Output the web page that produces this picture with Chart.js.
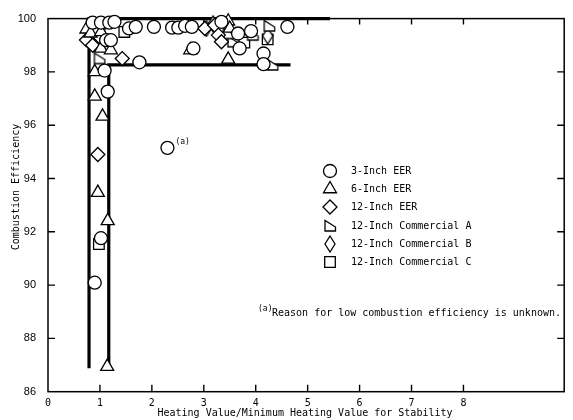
<!DOCTYPE html>
<html>
<head>
<meta charset="utf-8">
<script src="https://cdn.jsdelivr.net/npm/chart.js@4.4.0/dist/chart.umd.min.js"></script>
<style>
    html, body { margin: 0; padding: 0; background: #fff; }
    #wrap { width: 573px; height: 420px; }
</style>
</head>
<body>
<div id="wrap"><canvas id="scatter_chart" width="573" height="420"></canvas></div>
<script>
// values
var xTickValues = [0, 1, 2, 3, 4, 5, 6, 7, 8];
var yTickValues = [86, 88, 90, 92, 94, 96, 98, 100];

var eer3X = [0.86, 1.02, 1.18, 1.28, 1.56, 1.69, 1.12, 1.21, 1.76, 1.09, 1.15, 1.02, 0.90, 2.04, 2.39, 2.51, 2.64, 2.77, 2.80, 3.34, 3.66, 3.69, 3.91, 4.15, 4.15, 4.61, 2.30];
var eer3Y = [99.85, 99.85, 99.85, 99.88, 99.63, 99.69, 99.19, 99.19, 98.36, 98.05, 97.26, 91.76, 90.09, 99.69, 99.66, 99.66, 99.73, 99.69, 98.88, 99.88, 99.44, 98.88, 99.53, 98.69, 98.29, 99.69, 95.15];

var eer6X = [0.74, 0.82, 1.02, 1.02, 1.21, 0.90, 0.90, 1.05, 0.96, 1.15, 1.14, 2.74, 3.47, 3.47, 3.50];
var eer6Y = [99.60, 99.45, 99.50, 98.88, 98.82, 98.00, 97.08, 96.33, 93.47, 92.41, 86.94, 98.82, 98.47, 99.90, 99.63];

var eer12X = [0.74, 0.86, 1.00, 1.43, 3.02, 3.21, 3.28, 3.34, 0.96];
var eer12Y = [99.20, 99.00, 99.30, 98.50, 99.63, 99.75, 99.38, 99.13, 94.90];

var commAX = [0.99, 3.56, 3.47, 4.26, 4.32, 3.94];
var commAY = [98.50, 99.13, 99.44, 99.72, 98.26, 99.38];

var commBX = [1.05, 3.05, 3.18, 4.23];
var commBY = [99.75, 99.63, 99.80, 99.35];

var commCX = [1.47, 0.98, 4.23, 3.78];
var commCY = [99.50, 91.54, 99.22, 99.10];

// stability limit lines
var outerLineX = [0.79, 0.79, 5.43];
var outerLineY = [86.88, 100, 100];
var innerLineX = [1.17, 1.17, 4.67];
var innerLineY = [87.06, 98.26, 98.26];

var seriesNames = ["3-Inch EER", "6-Inch EER", "12-Inch EER", "12-Inch Commercial A", "12-Inch Commercial B", "12-Inch Commercial C"];
var noteText = "Reason for low combustion efficiency is unknown.";

var typeFont = '"DejaVu Sans Mono", monospace';

function toPoints(xs, ys) {
    return xs.map(function (x, i) { return { x: x, y: ys[i] }; });
}

function makeShape(kind) {
    var c = document.createElement('canvas');
    var ctx;
    if (kind === 'commA') {
        c.width = 14; c.height = 14;
        ctx = c.getContext('2d');
        ctx.beginPath();
        ctx.moveTo(2, 1.5);
        ctx.lineTo(2, 12);
        ctx.lineTo(12.5, 12);
        ctx.lineTo(12.5, 8);
        ctx.closePath();
    } else {
        c.width = 12; c.height = 18;
        ctx = c.getContext('2d');
        ctx.beginPath();
        ctx.moveTo(6, 1);
        ctx.lineTo(11, 9);
        ctx.lineTo(6, 17);
        ctx.lineTo(1, 9);
        ctx.closePath();
    }
    ctx.fillStyle = '#fff';
    ctx.fill();
    ctx.lineWidth = 1.3;
    ctx.strokeStyle = '#000';
    ctx.stroke();
    return c;
}

var shapeA = makeShape('commA');
var shapeB = makeShape('commB');

function markerSet(label, xs, ys, style, radius) {
    return {
        label: label,
        data: toPoints(xs, ys),
        pointStyle: style,
        pointRadius: radius,
        pointBackgroundColor: '#fff',
        pointBorderColor: '#000',
        pointBorderWidth: 1.3,
        showLine: false,
        clip: false,
        order: 1
    };
}

function limitLine(xs, ys) {
    return {
        type: 'line',
        label: '',
        data: toPoints(xs, ys),
        borderColor: '#000',
        borderWidth: 3.2,
        pointRadius: 0,
        showLine: true,
        fill: false,
        tension: 0,
        clip: false,
        order: 10
    };
}

// frame, inward tick marks, titles, legend and footnote
var paperPlugin = {
    id: 'paper',
    beforeDatasetsDraw: function (chart) {
        var ctx = chart.ctx, a = chart.chartArea;
        var xs = chart.scales.x, ys = chart.scales.y;
        ctx.save();
        ctx.strokeStyle = '#000';
        ctx.lineWidth = 1.5;
        ctx.strokeRect(a.left, a.top, a.right - a.left, a.bottom - a.top);
        ctx.lineWidth = 1.4;
        ctx.beginPath();
        yTickValues.forEach(function (v) {
            if (v === 86 || v === 100) return;
            var p = ys.getPixelForValue(v);
            ctx.moveTo(a.left, p); ctx.lineTo(a.left + 7, p);
            ctx.moveTo(a.right, p); ctx.lineTo(a.right - 7, p);
        });
        xTickValues.forEach(function (v) {
            if (v === 0) return;
            var p = xs.getPixelForValue(v);
            ctx.moveTo(p, a.bottom); ctx.lineTo(p, a.bottom - 7);
            ctx.moveTo(p, a.top); ctx.lineTo(p, a.top + 6);
        });
        ctx.stroke();
        ctx.restore();
    },
    afterDraw: function (chart) {
        var ctx = chart.ctx, a = chart.chartArea;
        var xs = chart.scales.x, ys = chart.scales.y;
        ctx.save();
        ctx.fillStyle = '#000';
        ctx.font = '10px ' + typeFont;
        ctx.textAlign = 'center';
        ctx.textBaseline = 'middle';
        ctx.fillText('Heating Value/Minimum Heating Value for Stability', 305, 413);

        ctx.save();
        ctx.translate(16, 187);
        ctx.rotate(-Math.PI / 2);
        ctx.fillText('Combustion Efficiency', 0, 0);
        ctx.restore();

        // legend
        var lx = 330, ly = [171, 189, 207, 226, 244, 262];
        ctx.textAlign = 'left';
        chart.data.datasets.forEach(function (ds, i) {
            if (i >= seriesNames.length) return;
            ctx.fillStyle = '#fff';
            ctx.strokeStyle = '#000';
            ctx.lineWidth = 1.3;
            Chart.helpers.drawPoint(ctx, {
                pointStyle: ds.pointStyle,
                radius: ds.pointRadius,
                rotation: 0,
                borderWidth: 1.3
            }, lx, ly[i]);
            ctx.fillStyle = '#000';
            ctx.fillText(seriesNames[i], 351, ly[i]);
        });

        // footnote for the odd point
        var px = xs.getPixelForValue(eer3X[eer3X.length - 1]);
        var py = ys.getPixelForValue(eer3Y[eer3Y.length - 1]);
        ctx.font = '8px ' + typeFont;
        ctx.fillText('(a)', px + 8, py - 6);
        ctx.fillText('(a)', 258, 309);
        ctx.font = '10px ' + typeFont;
        ctx.fillText(noteText, 272, 313);
        ctx.restore();
    }
};

new Chart(document.getElementById("scatter_chart").getContext("2d"), {
    type: 'scatter',
    data: {
        datasets: [
            markerSet(seriesNames[0], eer3X, eer3Y, 'circle', 6.5),
            markerSet(seriesNames[1], eer6X, eer6Y, 'triangle', 7.5),
            markerSet(seriesNames[2], eer12X, eer12Y, 'rectRot', 7),
            markerSet(seriesNames[3], commAX, commAY, shapeA, 7),
            markerSet(seriesNames[4], commBX, commBY, shapeB, 7),
            markerSet(seriesNames[5], commCX, commCY, 'rect', 7.5),
            limitLine(outerLineX, outerLineY),
            limitLine(innerLineX, innerLineY)
        ]
    },
    options: {
        responsive: false,
        animation: false,
        devicePixelRatio: 1,
        layout: { padding: { top: 15, right: 3, left: 0, bottom: 0 } },
        plugins: {
            legend: { display: false },
            tooltip: { enabled: false }
        },
        scales: {
            x: {
                type: 'linear',
                min: 0,
                max: 9.94,
                grid: { display: false, drawTicks: false },
                border: { display: false },
                afterBuildTicks: function (scale) {
                    scale.ticks = xTickValues.map(function (v) { return { value: v }; });
                },
                afterFit: function (scale) { scale.height = 28.3; },
                ticks: {
                    color: '#000',
                    padding: 6,
                    maxRotation: 0,
                    autoSkip: false,
                    font: { family: typeFont, size: 10 }
                }
            },
            y: {
                type: 'linear',
                min: 86,
                max: 100,
                grid: { display: false, drawTicks: false },
                border: { display: false },
                afterBuildTicks: function (scale) {
                    scale.ticks = yTickValues.map(function (v) { return { value: v }; });
                },
                afterFit: function (scale) { scale.width = 48; },
                ticks: {
                    color: '#000',
                    padding: 12,
                    font: { family: '"Liberation Sans", Arial, sans-serif', size: 11 }
                }
            }
        }
    },
    plugins: [paperPlugin]
});
</script>
</body>
</html>
